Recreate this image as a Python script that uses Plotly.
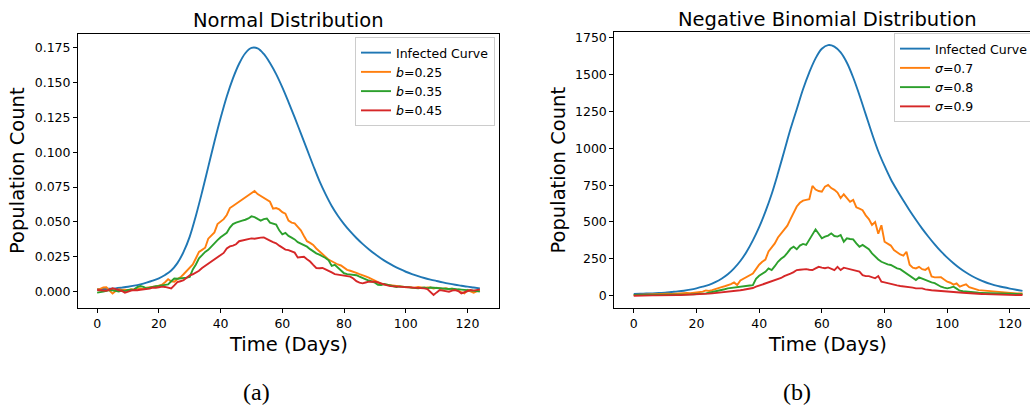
import plotly.graph_objects as go

# ---------------- data ----------------
days = list(range(125))
days_smooth = list(range(0, 125, 2))

# Panel (a): Normal distribution
normal_infected = [
    0.0017, 0.0019, 0.0021, 0.0024, 0.0029, 0.0035, 0.0043, 0.0053, 0.0065, 0.0079,
    0.0096, 0.0120, 0.0152, 0.0205, 0.0285, 0.0395, 0.0545, 0.0715, 0.0895, 0.1075,
    0.1245, 0.1400, 0.1530, 0.1635, 0.1710, 0.1748, 0.1745, 0.1705, 0.1640, 0.1560,
    0.1465, 0.1360, 0.1250, 0.1135, 0.1020, 0.0905, 0.0795, 0.0700, 0.0615, 0.0545,
    0.0485, 0.0432, 0.0385, 0.0343, 0.0305, 0.0270, 0.0238, 0.0210, 0.0185, 0.0163,
    0.0143, 0.0126, 0.0111, 0.0098, 0.0087, 0.0077, 0.0067, 0.0058, 0.0050, 0.0043,
    0.0036, 0.0030, 0.0024,
]
normal_b025 = [
    0.0017, 0.0020, 0.0030, 0.0032, 0.0008, -0.0013, 0.0005, 0.0017, 0.0012, 0.0015,
    0.0010, 0.0018, 0.0014, 0.0022, 0.0024, 0.0020, 0.0028, 0.0030, 0.0031, 0.0038,
    0.0044, 0.0050, 0.0068, 0.0089, 0.0075, 0.0072, 0.0090, 0.0103, 0.0125, 0.0150,
    0.0172, 0.0195, 0.0240, 0.0285, 0.0300, 0.0315, 0.0380, 0.0400, 0.0425, 0.0485,
    0.0505, 0.0520, 0.0550, 0.0600, 0.0615, 0.0630, 0.0650, 0.0665, 0.0675, 0.0690,
    0.0705, 0.0722, 0.0700, 0.0685, 0.0670, 0.0660, 0.0645, 0.0595, 0.0600, 0.0590,
    0.0570, 0.0560, 0.0510, 0.0495, 0.0490, 0.0465, 0.0440, 0.0400, 0.0362, 0.0350,
    0.0335, 0.0310, 0.0290, 0.0265, 0.0245, 0.0230, 0.0218, 0.0205, 0.0195, 0.0188,
    0.0170, 0.0157, 0.0150, 0.0144, 0.0135, 0.0126, 0.0120, 0.0110, 0.0100, 0.0088,
    0.0078, 0.0065, 0.0058, 0.0052, 0.0050, 0.0047, 0.0044, 0.0040, 0.0041, 0.0036,
    0.0032, 0.0034, 0.0030, 0.0028, 0.0034, 0.0030, 0.0027, 0.0031, 0.0030, 0.0022,
    0.0028, 0.0024, 0.0020, 0.0024, 0.0018, 0.0021, 0.0015, 0.0008, -0.0004, -0.0012,
    0.0012, 0.0004, -0.0007, 0.0002, 0.0010,
]
normal_b035 = [
    -0.0007, -0.0005, 0.0000, 0.0006, 0.0012, 0.0010, 0.0006, 0.0002, 0.0008, 0.0004,
    0.0012, 0.0015, 0.0017, 0.0032, 0.0040, 0.0035, 0.0024, 0.0028, 0.0036, 0.0040,
    0.0042, 0.0046, 0.0045, 0.0052, 0.0075, 0.0094, 0.0093, 0.0094, 0.0096, 0.0101,
    0.0106, 0.0160, 0.0195, 0.0240, 0.0262, 0.0285, 0.0300, 0.0325, 0.0345, 0.0370,
    0.0390, 0.0405, 0.0422, 0.0460, 0.0485, 0.0495, 0.0505, 0.0510, 0.0516, 0.0525,
    0.0540, 0.0535, 0.0522, 0.0510, 0.0520, 0.0525, 0.0495, 0.0487, 0.0482, 0.0440,
    0.0412, 0.0422, 0.0400, 0.0388, 0.0375, 0.0355, 0.0345, 0.0335, 0.0323, 0.0305,
    0.0288, 0.0275, 0.0265, 0.0255, 0.0242, 0.0225, 0.0185, 0.0192, 0.0170, 0.0150,
    0.0132, 0.0126, 0.0125, 0.0124, 0.0118, 0.0108, 0.0098, 0.0086, 0.0080, 0.0073,
    0.0065, 0.0050, 0.0048, 0.0055, 0.0050, 0.0040, 0.0036, 0.0034, 0.0038, 0.0035,
    0.0036, 0.0030, 0.0028, 0.0026, 0.0024, 0.0027, 0.0031, 0.0024, 0.0030, 0.0028,
    0.0026, 0.0024, 0.0022, 0.0024, 0.0019, 0.0022, 0.0017, 0.0017, 0.0015, 0.0013,
    0.0016, 0.0012, 0.0010, 0.0005, 0.0000,
]
normal_b045 = [
    0.0012, 0.0010, 0.0008, 0.0007, 0.0015, 0.0024, 0.0018, 0.0012, 0.0005, -0.0007,
    0.0002, 0.0008, 0.0012, 0.0010, 0.0014, 0.0017, 0.0015, 0.0022, 0.0030, 0.0028,
    0.0032, 0.0036, 0.0034, 0.0028, 0.0024, 0.0045, 0.0068, 0.0075, 0.0082, 0.0100,
    0.0118, 0.0125, 0.0138, 0.0150, 0.0170, 0.0185, 0.0205, 0.0220, 0.0235, 0.0250,
    0.0262, 0.0278, 0.0310, 0.0325, 0.0330, 0.0340, 0.0362, 0.0368, 0.0370, 0.0375,
    0.0382, 0.0380, 0.0385, 0.0388, 0.0389, 0.0375, 0.0366, 0.0355, 0.0347, 0.0330,
    0.0315, 0.0302, 0.0298, 0.0290, 0.0280, 0.0245, 0.0248, 0.0250, 0.0232, 0.0216,
    0.0192, 0.0170, 0.0168, 0.0170, 0.0160, 0.0146, 0.0138, 0.0126, 0.0122, 0.0121,
    0.0118, 0.0112, 0.0108, 0.0095, 0.0075, 0.0065, 0.0060, 0.0066, 0.0072, 0.0071,
    0.0072, 0.0066, 0.0058, 0.0052, 0.0045, 0.0040, 0.0039, 0.0037, 0.0036, 0.0034,
    0.0033, 0.0031, 0.0030, 0.0028, 0.0026, 0.0025, 0.0024, 0.0018, 0.0000, -0.0024,
    -0.0005, 0.0012, 0.0008, 0.0003, 0.0000, 0.0008, 0.0012, 0.0005, -0.0012, -0.0004,
    0.0006, 0.0012, 0.0008, 0.0014, 0.0017,
]

# Panel (b): Negative binomial distribution
negbin_infected = [
    12, 13, 15, 16, 18, 21, 25, 29, 34, 41,
    50, 61, 74, 92, 115, 145, 185, 235, 298, 375,
    465, 570, 690, 830, 980, 1130, 1265, 1400, 1515, 1610,
    1675, 1700, 1690, 1650, 1580, 1480, 1360, 1230, 1100, 980,
    880, 790, 715, 645, 578, 515, 455, 400, 348, 300,
    258, 220, 186, 157, 132, 111, 93, 79, 67, 57,
    48, 40, 33,
]
negbin_s07 = [
    5, 6, 7, 6, 8, 9, 8, 10, 11, 10,
    12, 13, 12, 14, 15, 14, 17, 18, 17, 20,
    20, 24, 28, 36, 32, 38, 43, 50, 58, 64,
    70, 78, 90, 72, 104, 115, 124, 138, 150, 180,
    210, 230, 245, 300, 330, 355, 395, 420, 445, 475,
    520, 560, 605, 630, 645, 650, 655, 745, 720, 710,
    705, 740, 752, 730, 718, 700, 662, 688, 660, 637,
    650, 600, 590, 580, 545, 520, 480, 500, 420, 478,
    366, 350, 340, 310, 295, 280, 272, 298, 210, 190,
    185, 196, 180, 175, 190, 130, 124, 122, 125, 110,
    95, 88, 75, 83, 62, 70, 77, 58, 50, 45,
    38, 36, 34, 31, 29, 27, 25, 23, 20, 19,
    18, 17, 16, 16, 15,
]
negbin_s08 = [
    5, 5, 4, 5, 6, 5, 5, 6, 6, 5,
    6, 7, 6, 5, 5, 7, 8, 9, 9, 10,
    11, 12, 14, 16, 20, 24, 27, 33, 38, 44,
    50, 52, 55, 57, 60, 63, 66, 69, 72, 115,
    135, 150, 162, 185, 174, 200, 230, 250, 265, 290,
    318, 332, 315, 340, 351, 344, 380, 412, 450, 420,
    389, 400, 408, 423, 405, 401, 412, 366, 389, 385,
    382, 355, 332, 344, 330, 315, 287, 265, 246, 230,
    219, 212, 208, 196, 185, 180, 165, 150, 140, 122,
    106, 124, 115, 106, 98, 90, 85, 72, 61, 55,
    50, 55, 61, 48, 34, 30, 27, 25, 23, 21,
    20, 19, 18, 17, 17, 16, 16, 15, 14, 13,
    12, 12, 11, 11, 11,
]
negbin_s09 = [
    0, 1, 0, 1, 2, 1, 2, 2, 3, 2,
    3, 3, 4, 3, 4, 4, 5, 4, 5, 5,
    5, 7, 9, 11, 14, 16, 18, 20, 22, 25,
    27, 30, 28, 34, 37, 40, 43, 48, 52, 61,
    68, 75, 84, 88, 97, 106, 110, 120, 133, 140,
    150, 160, 174, 176, 178, 180, 176, 174, 185, 196,
    190, 186, 192, 182, 174, 196, 174, 190, 185, 178,
    174, 168, 163, 140, 133, 133, 125, 118, 133, 95,
    90, 84, 80, 72, 70, 66, 64, 62, 61, 55,
    50, 52, 50, 43, 38, 37, 35, 34, 33, 31,
    29, 27, 26, 24, 22, 20, 18, 16, 15, 14,
    13, 12, 11, 10, 9, 8, 7, 5, 5, 6,
    5, 5, 4, 5, 5,
]

x_ticks = [0, 20, 40, 60, 80, 100, 120]
y_ticks_a = [0.0, 0.025, 0.05, 0.075, 0.1, 0.125, 0.15, 0.175]
y_ticks_b = [0, 250, 500, 750, 1000, 1250, 1500, 1750]

labels_a = ["Infected Curve", "<i>b</i>=0.25", "<i>b</i>=0.35", "<i>b</i>=0.45"]
labels_b = ["Infected Curve", "<i>σ</i>=0.7", "<i>σ</i>=0.8", "<i>σ</i>=0.9"]
colors = ["#1f77b4", "#ff7f0e", "#2ca02c", "#d62728"]

# ---------------- figure ----------------
W, H = 1030, 406
FONT = "DejaVu Sans"
LW = 1.9

fig = go.Figure()

series_a = [(days_smooth, normal_infected), (days, normal_b025), (days, normal_b035), (days, normal_b045)]
series_b = [(days_smooth, negbin_infected), (days, negbin_s07), (days, negbin_s08), (days, negbin_s09)]

for i, ((xs, ys), name, c) in enumerate(zip(series_a, labels_a, colors)):
    fig.add_trace(go.Scatter(x=xs, y=ys, mode="lines", name=name,
                             line=dict(color=c, width=LW, shape="spline" if i == 0 else "linear"),
                             xaxis="x", yaxis="y", legend="legend"))
for i, ((xs, ys), name, c) in enumerate(zip(series_b, labels_b, colors)):
    fig.add_trace(go.Scatter(x=xs, y=ys, mode="lines", name=name,
                             line=dict(color=c, width=LW, shape="spline" if i == 0 else "linear"),
                             xaxis="x2", yaxis="y2", legend="legend2"))

def px_x(p):
    return p / W

def px_y(p):
    return 1 - p / H

axis_common = dict(
    showgrid=False, zeroline=False, showline=True, linecolor="black", linewidth=1,
    ticks="outside", ticklen=4, tickwidth=1, tickcolor="black",
    tickfont=dict(family=FONT, size=12.5, color="black"),
)

fig.update_layout(
    width=W, height=H,
    margin=dict(l=0, r=0, t=0, b=0, autoexpand=False),
    paper_bgcolor="white", plot_bgcolor="white",
    font=dict(family=FONT, color="black"),
    xaxis=dict(domain=[px_x(78), px_x(499)], range=[-6.2, 130.2], tickvals=x_ticks,
               mirror=True, anchor="y", **axis_common),
    yaxis=dict(domain=[px_y(308), px_y(34)], range=[-0.0117, 0.1848], tickvals=y_ticks_a,
               tickformat=".3f", mirror=True, anchor="x", **axis_common),
    xaxis2=dict(domain=[px_x(614.3), 1.0], range=[-6.2, 126.4], tickvals=x_ticks,
                mirror=True, anchor="y2", **axis_common),
    yaxis2=dict(domain=[px_y(307.7), px_y(32.3)], range=[-81.4, 1786.6], tickvals=y_ticks_b,
                tickformat="d", mirror=False, anchor="x2", **axis_common),
    legend=dict(x=px_x(355), y=px_y(37), xanchor="left", yanchor="top",
                bgcolor="rgba(255,255,255,0.8)", bordercolor="#cccccc", borderwidth=1,
                font=dict(family=FONT, size=12.5, color="black")),
    legend2=dict(x=px_x(894), y=px_y(33), xanchor="left", yanchor="top",
                 bgcolor="rgba(255,255,255,0.8)", bordercolor="#cccccc", borderwidth=1,
                 font=dict(family=FONT, size=12.5, color="black")),
    showlegend=True,
)

ann = []
def add_text(text, x, y, size, family=FONT, angle=0):
    ann.append(dict(text=text, x=px_x(x), y=px_y(y), xref="paper", yref="paper",
                    xanchor="center", yanchor="middle", showarrow=False, textangle=angle,
                    font=dict(family=family, size=size, color="black")))

add_text("Normal Distribution", 288.5, 21, 19.5)
add_text("Negative Binomial Distribution", 827, 19, 19.5)
add_text("Time (Days)", 288, 344, 19.5)
add_text("Time (Days)", 827, 344, 19.5)
add_text("Population Count", 17, 171, 19.5, angle=-90)
add_text("Population Count", 557.5, 170, 19.5, angle=-90)
add_text("(a)", 256, 392, 24, family="Liberation Serif")
add_text("(b)", 797, 392, 24, family="Liberation Serif")
fig.update_layout(annotations=ann)

fig.write_html("out.html")
